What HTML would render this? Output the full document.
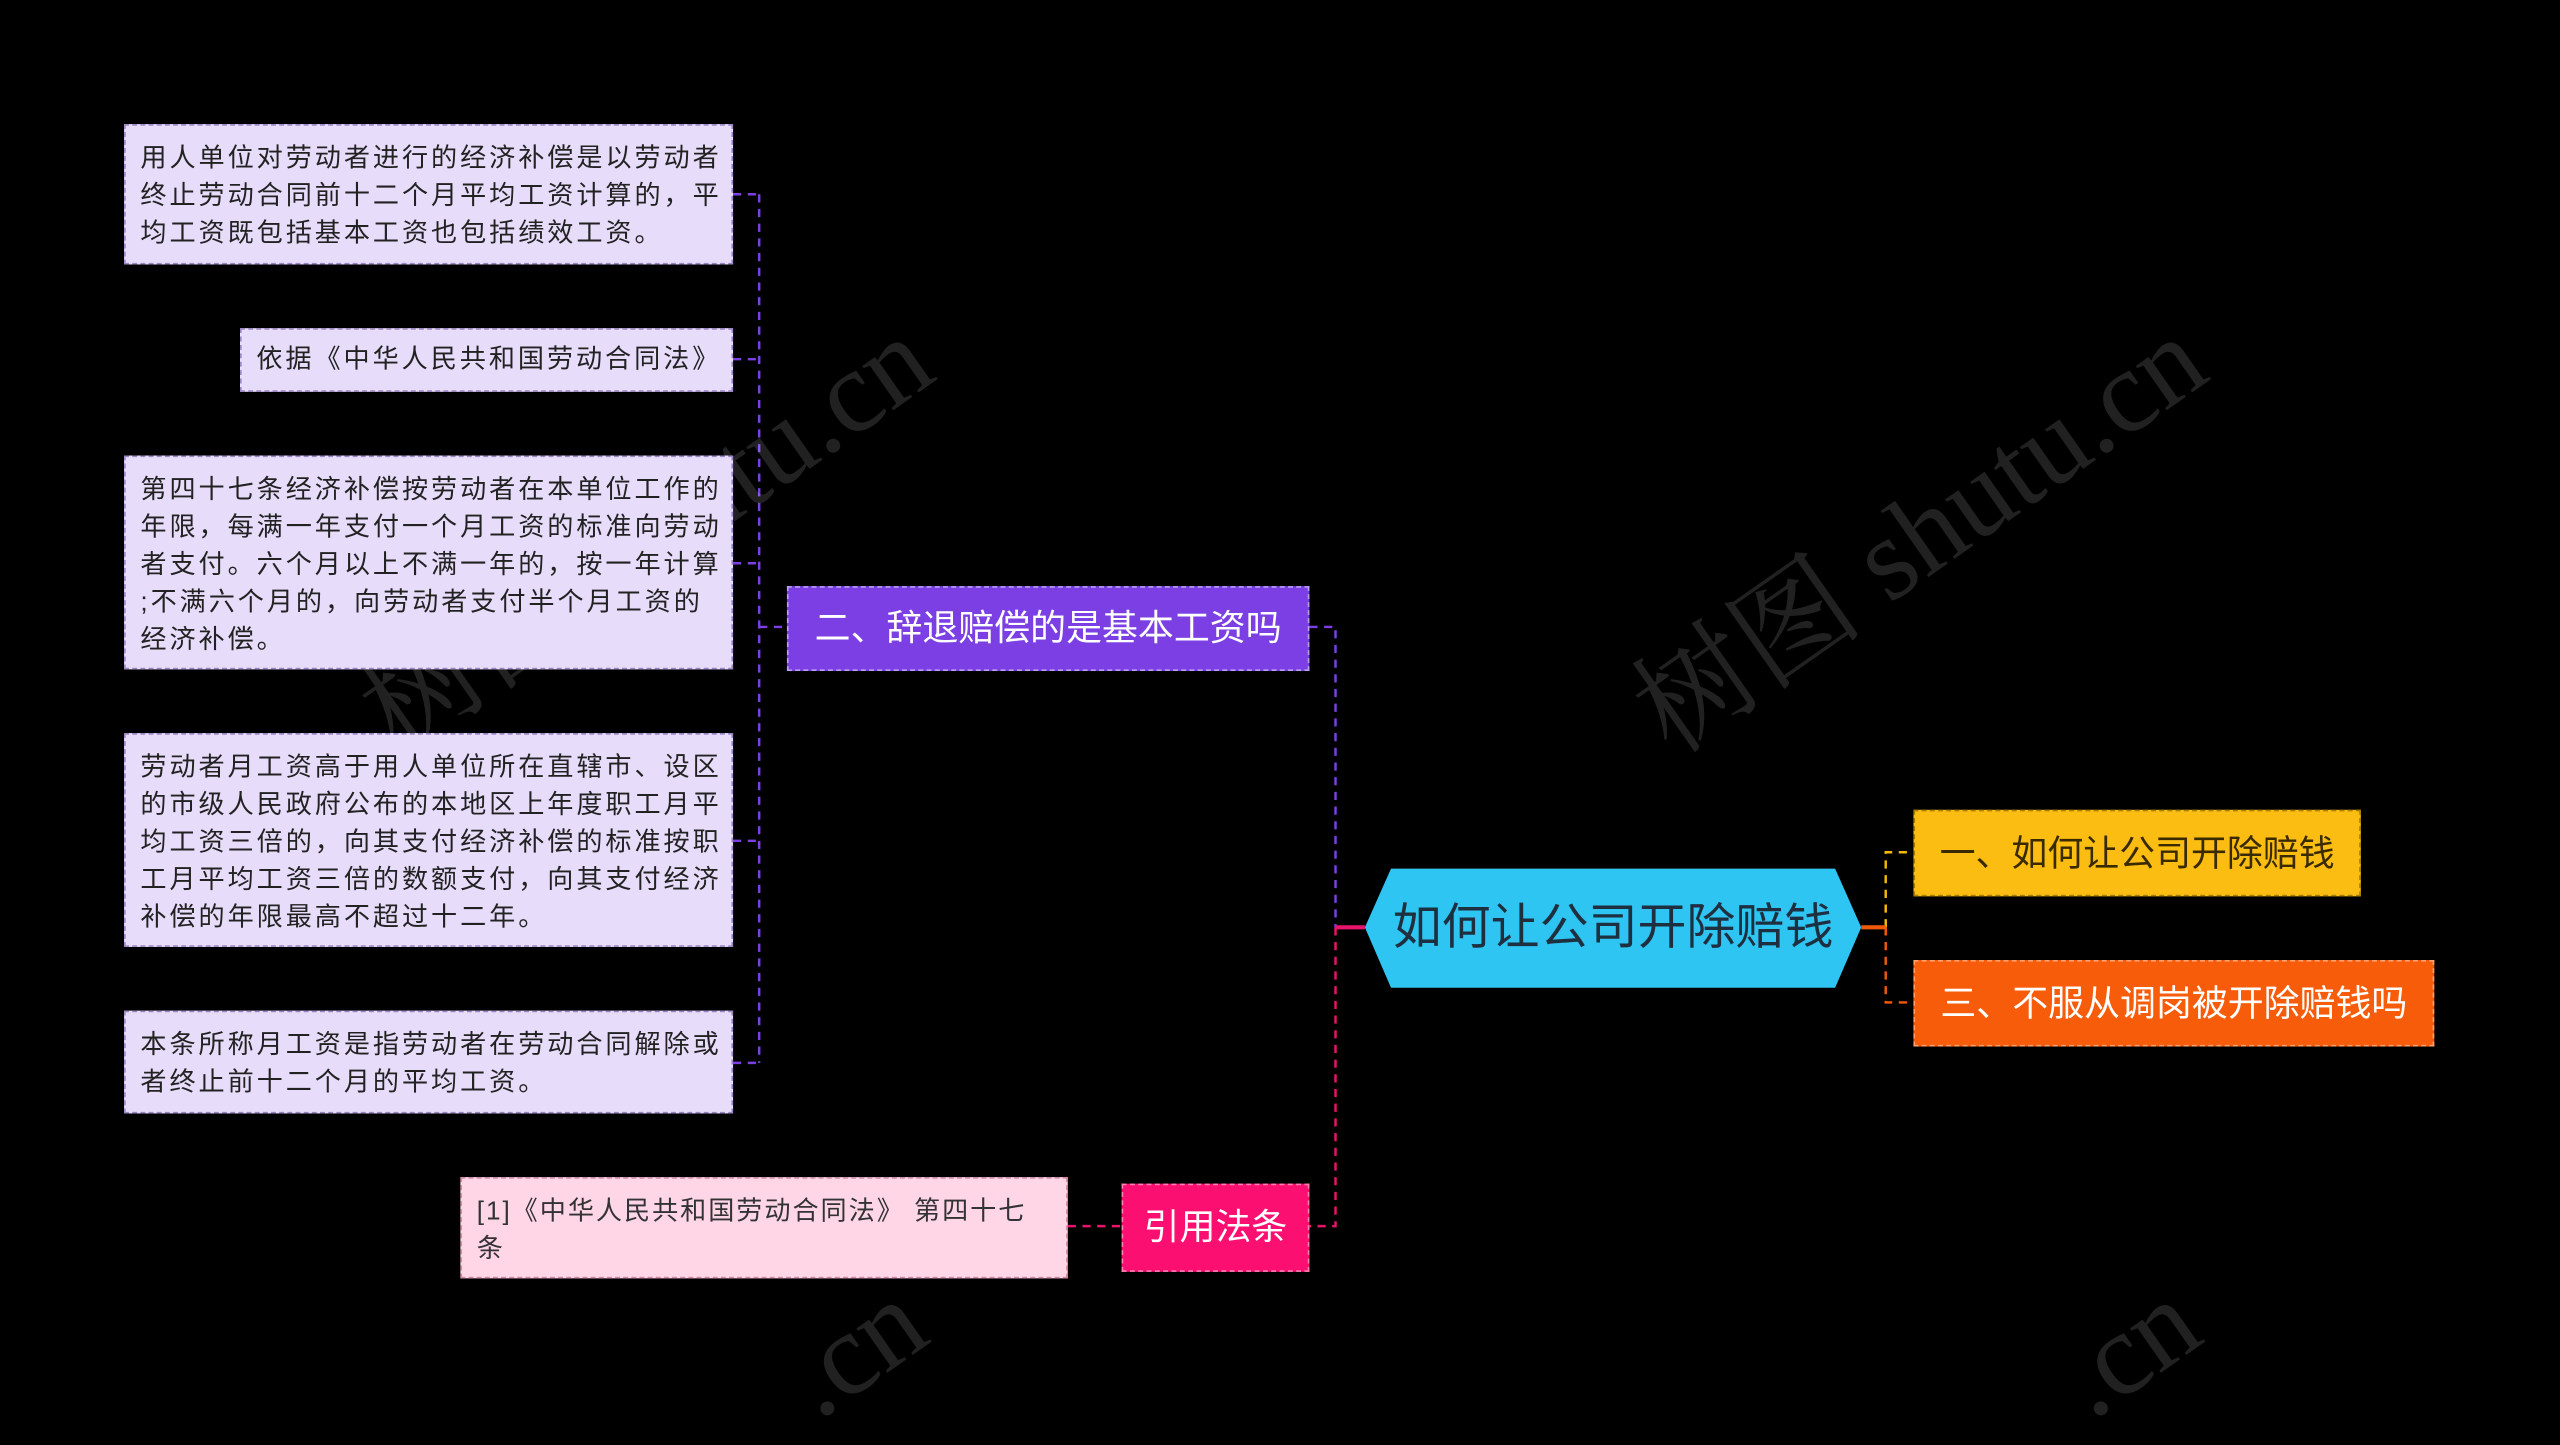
<!DOCTYPE html>
<html><head><meta charset="utf-8"><style>
html,body{margin:0;padding:0;background:#000;}
body{width:2560px;height:1404px;overflow:hidden;position:relative;}
#s{position:absolute;left:0;top:0;width:1568px;height:860px;transform:scale(1.63265);transform-origin:0 0;font-family:"Liberation Sans","Noto Sans CJK SC",sans-serif;}
.n{position:absolute;box-sizing:border-box;white-space:nowrap;}
.l{background:#e8dcfb;border:1px dashed #9a86c4;color:#222;font-size:16px;letter-spacing:1.8px;line-height:23px;padding:9px 0 0 9px;overflow:hidden;}
svg{position:absolute;left:0;top:0;}
.wm{position:absolute;color:rgba(255,255,255,0.13);font-family:"Liberation Serif","Noto Serif CJK SC",serif;font-size:72px;transform:rotate(-35deg);white-space:nowrap;}
</style></head><body><div id="s">
<svg width="1568" height="860">
<g fill="none" stroke-width="1.5" stroke-dasharray="5,4">
<path d="M449 119H465M449 220H465M449 345H465M449 515H465M449 651H465M465 119V651M465 384H482" stroke="#7b3fe4"/>
<path d="M802 384H818V568" stroke="#7b3fe4"/>
<path d="M818 568V751H802M654 751H687" stroke="#e8146c"/>
<path d="M1155 568V522H1172" stroke="#f5b800"/>
<path d="M1155 568V614H1172" stroke="#f05a0a"/>
</g>
<path d="M818 568H836" stroke="#e8146c" stroke-width="2.5"/>
<path d="M1140 568H1155" stroke="#f05a0a" stroke-width="2.5"/>
<polygon points="852,532 1124,532 1140,568 1124,605 852,605 836,568" fill="#2ec5f2"/>
</svg>
<div class="wm" style="left:190px;top:270px">树图 shutu.cn</div>
<div class="wm" style="left:970px;top:270px">树图 shutu.cn</div>
<div class="wm" style="left:480px;top:785px">.cn</div>
<div class="wm" style="left:1260px;top:785px">.cn</div>
<div class="n l" style="left:76px;top:76px;width:373px;height:86px">用人单位对劳动者进行的经济补偿是以劳动者<br>终止劳动合同前十二个月平均工资计算的，平<br>均工资既包括基本工资也包括绩效工资。</div>
<div class="n l" style="left:147px;top:201px;width:302px;height:39px;padding-top:7px;letter-spacing:1.8px">依据《中华人民共和国劳动合同法》</div>
<div class="n l" style="left:76px;top:279px;width:373px;height:131px">第四十七条经济补偿按劳动者在本单位工作的<br>年限，每满一年支付一个月工资的标准向劳动<br>者支付。六个月以上不满一年的，按一年计算<br>;不满六个月的，向劳动者支付半个月工资的<br>经济补偿。</div>
<div class="n l" style="left:76px;top:449px;width:373px;height:131px">劳动者月工资高于用人单位所在直辖市、设区<br>的市级人民政府公布的本地区上年度职工月平<br>均工资三倍的，向其支付经济补偿的标准按职<br>工月平均工资三倍的数额支付，向其支付经济<br>补偿的年限最高不超过十二年。</div>
<div class="n l" style="left:76px;top:619px;width:373px;height:63px">本条所称月工资是指劳动者在劳动合同解除或<br>者终止前十二个月的平均工资。</div>
<div class="n" style="left:482px;top:359px;width:320px;height:52px;background:#7b3fe4;border:1px dashed #b9a0f0;color:#fff;font-size:22px;line-height:50px;text-align:center">二、辞退赔偿的是基本工资吗</div>
<div class="n" style="left:836px;top:532px;width:304px;height:73px;color:#1e3040;font-size:30px;line-height:73px;text-align:center">如何让公司开除赔钱</div>
<div class="n" style="left:1172px;top:496px;width:274px;height:53px;background:#fbbd12;border:1px dashed #a88000;color:#3a2a00;font-size:22px;line-height:51px;text-align:center">一、如何让公司开除赔钱</div>
<div class="n" style="left:1172px;top:588px;width:319px;height:53px;background:#f75c0b;border:1px dashed #ffa070;color:#fff;font-size:22px;line-height:51px;text-align:center">三、不服从调岗被开除赔钱吗</div>
<div class="n" style="left:687px;top:725px;width:115px;height:54px;background:#fb0f71;border:1px dashed #ff80b0;color:#fff;font-size:22px;line-height:52px;text-align:center">引用法条</div>
<div class="n" style="left:282px;top:721px;width:372px;height:62px;background:#ffd6e6;border:1px dashed #d08aa6;color:#333;font-size:16px;letter-spacing:1.2px;line-height:23px;padding:9px 0 0 9px">[1]《中华人民共和国劳动合同法》 第四十七<br>条</div>
</div></body></html>
